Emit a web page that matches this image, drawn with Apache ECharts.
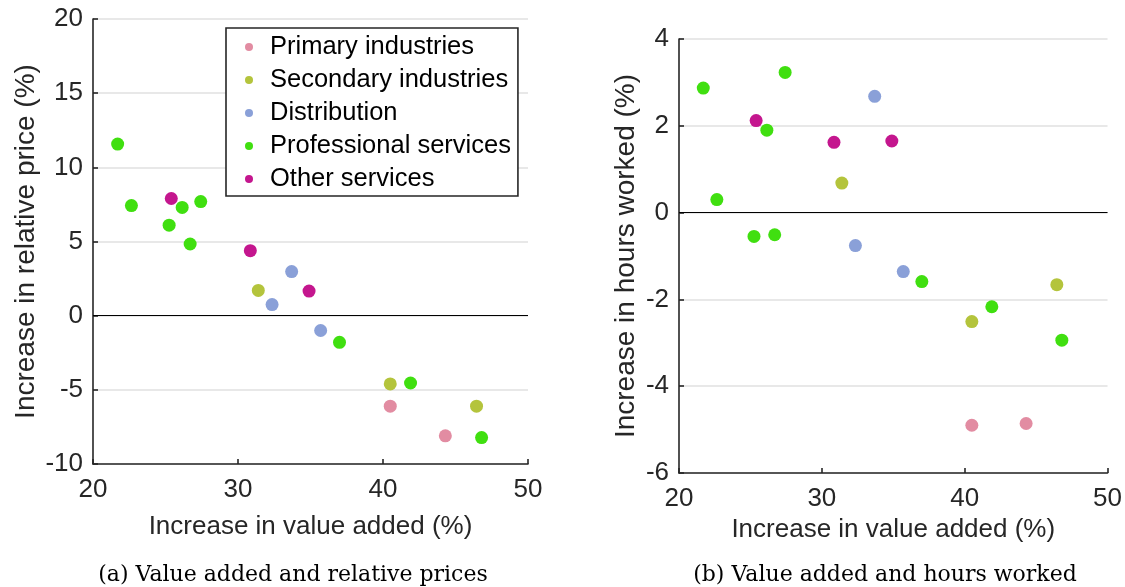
<!DOCTYPE html>
<html>
<head>
<meta charset="utf-8">
<script src="https://cdn.jsdelivr.net/npm/echarts@6/dist/echarts.min.js"></script>
<style>
  html, body { margin: 0; padding: 0; background: #fff; }
  #main { width: 1125px; height: 587px; }
</style>
</head>
<body>
<div id="main"></div>
<script>
var chart = echarts.init(document.getElementById('main'));

// sectors (value added is shared)
var sectorNames = ['Primary industries', 'Secondary industries', 'Distribution', 'Professional services', 'Other services'];
var colors = ['#e28ca2', '#b4c43c', '#8aa0d8', '#40df10', '#c4168e'];

var primaryVA = [40.5, 44.3];
var primaryPrice = [-6.1, -8.1];
var primaryHours = [-4.9, -4.86];

var secondaryVA = [31.4, 40.5, 46.45];
var secondaryPrice = [1.7, -4.6, -6.1];
var secondaryHours = [0.68, -2.51, -1.66];

var distributionVA = [32.35, 33.7, 35.7];
var distributionPrice = [0.75, 2.97, -1.0];
var distributionHours = [-0.76, 2.68, -1.36];

var professionalVA = [21.7, 22.65, 25.25, 26.15, 26.7, 27.43, 37.0, 41.9, 46.8];
var professionalPrice = [11.57, 7.42, 6.1, 7.3, 4.83, 7.69, -1.8, -4.54, -8.22];
var professionalHours = [2.87, 0.3, -0.55, 1.9, -0.51, 3.23, -1.59, -2.17, -2.94];

var otherVA = [25.4, 30.85, 34.9];
var otherPrice = [7.9, 4.38, 1.66];
var otherHours = [2.12, 1.62, 1.65];

var xTicks = [20, 30, 40, 50];
var priceTicks = [-10, -5, 0, 5, 10, 15, 20];
var hoursTicks = [-6, -4, -2, 0, 2, 4];

var groups = [
    [primaryVA, primaryPrice, primaryHours],
    [secondaryVA, secondaryPrice, secondaryHours],
    [distributionVA, distributionPrice, distributionHours],
    [professionalVA, professionalPrice, professionalHours],
    [otherVA, otherPrice, otherHours]
];

function zip(xs, ys) {
    var out = [];
    for (var i = 0; i < xs.length; i++) out.push([xs[i], ys[i]]);
    return out;
}

var axisColor = '#262626';
var sans = 'Liberation Sans';

function xAxisFor(gridIndex, gap) {
    return {
        type: 'value',
        gridIndex: gridIndex,
        min: xTicks[0],
        max: xTicks[xTicks.length - 1],
        interval: 10,
        name: 'Increase in value added (%)',
        nameLocation: 'middle',
        nameGap: gap,
        nameTextStyle: { fontFamily: sans, fontSize: 26, color: axisColor },
        axisLine: { onZero: false, lineStyle: { color: axisColor, width: 1.6 } },
        axisTick: { inside: true, length: 5, lineStyle: { color: axisColor, width: 1.6 } },
        axisLabel: { fontFamily: sans, fontSize: 26, color: axisColor, margin: 13 },
        splitLine: { show: false }
    };
}

function yAxisFor(gridIndex, ticks, name, gap) {
    return {
        type: 'value',
        gridIndex: gridIndex,
        min: ticks[0],
        max: ticks[ticks.length - 1],
        interval: ticks[1] - ticks[0],
        name: name,
        nameLocation: 'middle',
        nameGap: gap,
        nameTextStyle: { fontFamily: sans, fontSize: 28, color: axisColor },
        axisLine: { show: true, onZero: false, lineStyle: { color: axisColor, width: 1.6 } },
        axisTick: { show: true, inside: true, length: 5, lineStyle: { color: axisColor, width: 1.6 } },
        axisLabel: { fontFamily: sans, fontSize: 26, color: axisColor, margin: 10 },
        splitLine: { show: true, lineStyle: { color: '#e0e0e0', width: 1.5 } }
    };
}

var series = [];
groups.forEach(function (g, i) {
    [1, 2].forEach(function (k) {
        var s = {
            name: sectorNames[i],
            type: 'scatter',
            xAxisIndex: k - 1,
            yAxisIndex: k - 1,
            symbolSize: 13,
            itemStyle: { color: colors[i], opacity: 1 },
            data: zip(g[0], g[k]),
            z: 3
        };
        if (i === 0) {
            // black reference line at zero
            s.markLine = {
                silent: true,
                symbol: 'none',
                label: { show: false },
                lineStyle: { color: '#000', width: 1.2, type: 'solid' },
                data: [{ yAxis: 0 }],
                z: 2
            };
        }
        series.push(s);
    });
});

var option = {
    animation: false,
    color: colors,
    title: [
        {
            text: '(a) Value added and relative prices',
            left: 288, top: 559, textAlign: 'center',
            textStyle: { fontFamily: 'DejaVu Serif', fontSize: 22, fontWeight: 'normal', color: '#000' }
        },
        {
            text: '(b) Value added and hours worked',
            left: 880, top: 559, textAlign: 'center',
            textStyle: { fontFamily: 'DejaVu Serif', fontSize: 22, fontWeight: 'normal', color: '#000' }
        }
    ],
    legend: {
        orient: 'vertical',
        left: 226,
        top: 28,
        padding: [6, 7, 4, 19],
        itemGap: 7,
        itemWidth: 8,
        itemHeight: 8,
        icon: 'circle',
        backgroundColor: '#fff',
        borderColor: axisColor,
        borderWidth: 1.6,
        borderRadius: 0,
        textStyle: { fontFamily: sans, fontSize: 25.5, color: '#000', padding: [0, 0, 0, 12] },
        data: sectorNames
    },
    grid: [
        { left: 93, top: 19, width: 435, height: 445 },
        { left: 679, top: 39, width: 429, height: 434 }
    ],
    xAxis: [xAxisFor(0, 50), xAxisFor(1, 43)],
    yAxis: [
        yAxisFor(0, priceTicks, 'Increase in relative price (%)', 53),
        yAxisFor(1, hoursTicks, 'Increase in hours worked (%)', 39)
    ],
    series: series
};

chart.setOption(option);
</script>
</body>
</html>
